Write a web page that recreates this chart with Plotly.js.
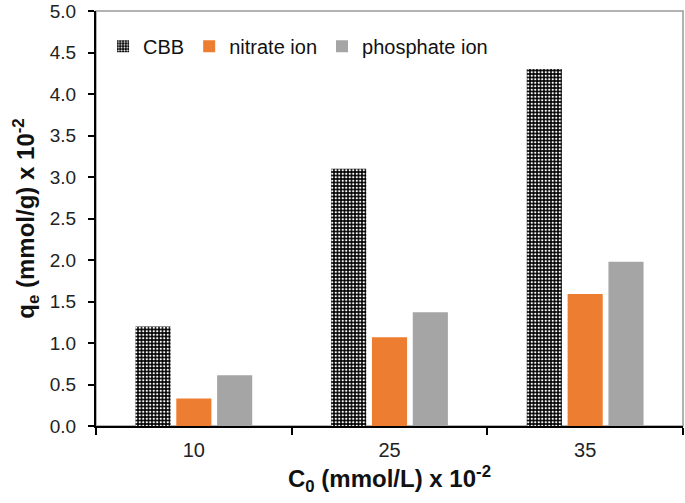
<!DOCTYPE html>
<html>
<head>
<meta charset="utf-8">
<script src="https://cdn.plot.ly/plotly-3.0.1.min.js"></script>
<style>html,body{margin:0;padding:0;background:#fff}#chart{width:685px;height:503px}</style>
</head>
<body>
<div id="chart"></div>
<script>
var categories = ['10', '25', '35'];
var cbbValues = [1.2, 3.1, 4.3];
var nitrateValues = [0.33, 1.07, 1.59];
var phosphateValues = [0.61, 1.37, 1.98];
var yTickVals = [0, 0.5, 1, 1.5, 2, 2.5, 3, 3.5, 4, 4.5, 5];
var yTickText = ['0.0','0.5','1.0','1.5','2.0','2.5','3.0','3.5','4.0','4.5','5.0'];

var font = 'Liberation Sans, Arial, sans-serif';

var traces = [
  {type:'bar', name:'CBB', x:categories, y:cbbValues,
   marker:{color:'#000', line:{width:0},
     pattern:{shape:'.', fgcolor:'#ffffff', bgcolor:'#000000', size:3.5, solidity:0.35}}},
  {type:'bar', name:'nitrate ion', x:categories, y:nitrateValues,
   marker:{color:'#ED7D31', line:{width:0}}},
  {type:'bar', name:'phosphate ion', x:categories, y:phosphateValues,
   marker:{color:'#A5A5A5', line:{width:0}}}
];

var layout = {
  width:685, height:503,
  margin:{l:96, r:2, t:11, b:77},
  paper_bgcolor:'#fff', plot_bgcolor:'#fff',
  font:{family:font, size:19, color:'#222'},
  barmode:'group', bargap:0.374, bargroupgap:0.14,
  showlegend:true,
  legend:{orientation:'h', x:0.012, y:0.962, xanchor:'left', yanchor:'top',
    font:{family:font, size:20, color:'#111'}, bgcolor:'rgba(0,0,0,0)',
    traceorder:'normal'},
  xaxis:{type:'category', showline:true, linecolor:'#000', linewidth:2,
    ticks:'outside', tickson:'boundaries', ticklen:7, tickwidth:2, tickcolor:'#000',
    ticklabelstandoff:5,
    showgrid:false, zeroline:false,
    tickfont:{family:font, size:20, color:'#222'},
    title:{text:'<b>C<sub>0</sub> (mmol/L) x 10<sup>-2</sup></b>', font:{family:font, size:24, color:'#111'}, standoff:10}},
  yaxis:{range:[0,5], tickvals:yTickVals, ticktext:yTickText,
    showline:true, linecolor:'#000', linewidth:2,
    ticks:'outside', ticklen:6, tickwidth:2, tickcolor:'#000',
    ticklabelstandoff:8, ticklabeloverflow:'allow',
    showgrid:false, zeroline:false,
    tickfont:{family:font, size:19, color:'#222'},
    title:{text:'<b>q<sub>e</sub> (mmol/g) x 10<sup>-2</sup></b>', font:{family:font, size:24, color:'#111'}, standoff:8}},
  shapes:[{type:'rect', xref:'paper', yref:'paper', x0:0, x1:1, y0:0, y1:1,
    line:{color:'#999', width:1.5}, layer:'below'}]
};

Plotly.newPlot('chart', traces, layout, {displayModeBar:false, staticPlot:true});
</script>
</body>
</html>
